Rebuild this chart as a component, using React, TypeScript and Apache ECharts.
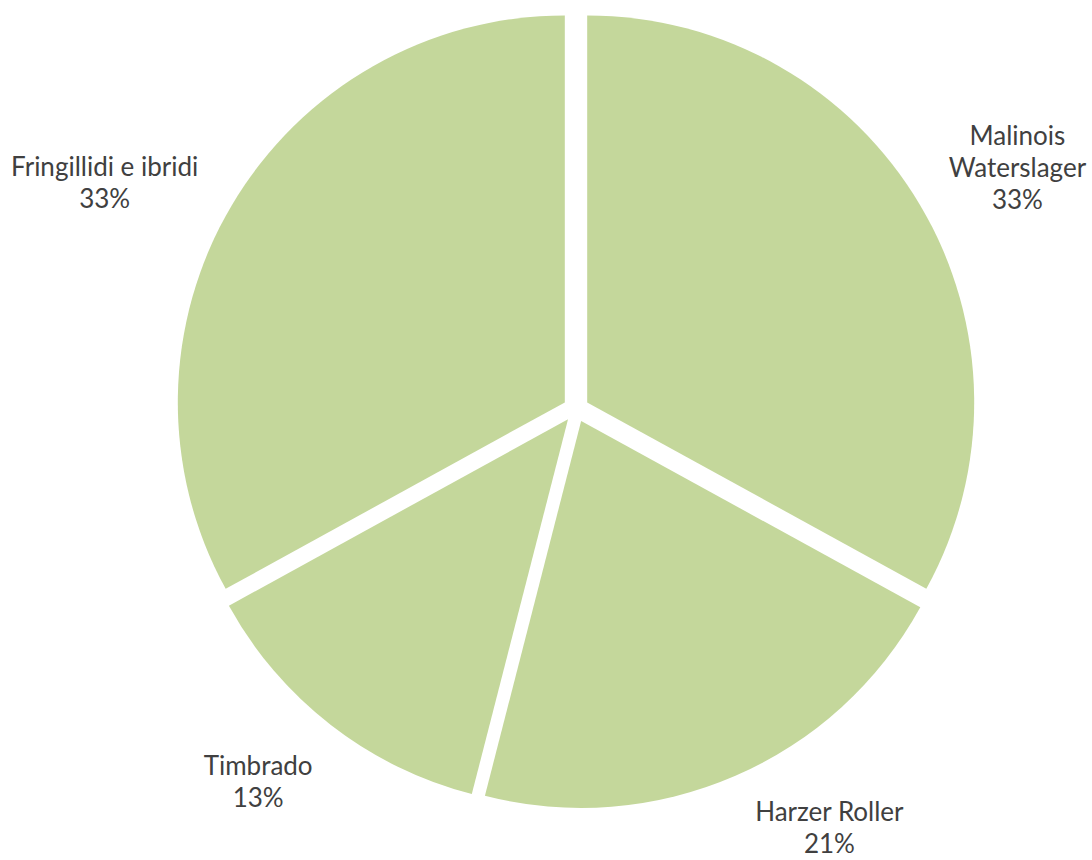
import React, { useEffect, useRef } from "react";
import * as echarts from "echarts";

const categories = ["Malinois\nWaterslager", "Harzer Roller", "Timbrado", "Fringillidi e ibridi"];
const values = [33, 21, 13, 33];

const SLICE_COLOR = "#c4d79b";
const TEXT_COLOR = "#404040";
const CENTER = [576, 409];
const RADIUS = 387;
const CORNER_DIST = 433; // distance of the label's inner corner from the centre
const GLYPH_INSET = 7; // line-box padding above/below the glyphs
// small per-label nudges (px) to mimic the original "best fit" placement
const LABEL_NUDGE_X = [0, 7, 2, -5];
const LABEL_NUDGE_Y = [19, -4, 5, 18];

export default function App() {
  const ref = useRef<HTMLDivElement>(null);
  useEffect(() => {
    document.body.style.margin = "0";
    if (!ref.current) return;
    const chart = echarts.init(ref.current, null, { renderer: "svg" });
    const total = values.reduce((a, b) => a + b, 0);
    const midAngles: number[] = [];
    let cum = 0;
    values.forEach((v) => {
      const frac = (cum + v / 2) / total;
      midAngles.push(((90 - frac * 360) * Math.PI) / 180);
      cum += v;
    });
    const common = {
      type: "pie",
      center: CENTER,
      radius: [0, RADIUS],
      startAngle: 90,
      clockwise: true,
      avoidLabelOverlap: false,
      emphasis: { disabled: true },
    };
    chart.setOption({
      animation: false,
      backgroundColor: "#ffffff",
      series: [
        {
          ...common,
          selectedMode: "multiple",
          selectedOffset: 13,
          itemStyle: { color: SLICE_COLOR, borderWidth: 0 },
          select: { itemStyle: { color: SLICE_COLOR } },
          label: { show: false },
          labelLine: { show: false },
          data: categories.map((name, i) => ({ name, value: values[i], selected: true })),
        },
        {
          ...common,
          silent: true,
          itemStyle: { color: "transparent", borderWidth: 0 },
          label: {
            show: true,
            position: "outside",
            formatter: "{b}\n{d}%",
            color: TEXT_COLOR,
            fontFamily: "Lato, 'Noto Sans', sans-serif",
            fontSize: 26,
            lineHeight: 32,
          },
          labelLine: { show: false },
          labelLayout: (p: any) => {
            const i = p.dataIndex;
            const a = midAngles[i];
            const ux = Math.cos(a);
            const uy = -Math.sin(a);
            const px = CENTER[0] + ux * CORNER_DIST;
            const py = CENTER[1] + uy * CORNER_DIST;
            const w = p.labelRect.width;
            const h = p.labelRect.height;
            return {
              x: px + Math.sign(ux) * w / 2 + LABEL_NUDGE_X[i],
              y: py + Math.sign(uy) * (h / 2 - GLYPH_INSET) + LABEL_NUDGE_Y[i],
              align: "center",
              verticalAlign: "middle",
            };
          },
          data: categories.map((name, i) => ({ name, value: values[i] })),
        },
      ],
    });
    return () => chart.dispose();
  }, []);
  return <div ref={ref} style={{ width: 1092, height: 860 }} />;
}
